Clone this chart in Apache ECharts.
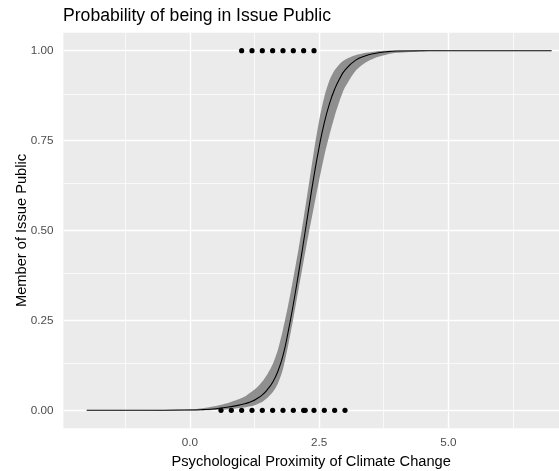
<!DOCTYPE html>
<html>
<head>
<meta charset="utf-8">
<script src="https://cdn.jsdelivr.net/npm/echarts@6/dist/echarts.min.js"></script>
<style>
  html, body { margin: 0; padding: 0; background: #ffffff; }
  #chart { width: 559px; height: 471px; }
</style>
</head>
<body>
<div id="chart"></div>
<script>
// Predicted probability of issue-public membership with its confidence band
const proximity = [-2, -1, 0, 0.25, 0.5, 0.75, 1.0, 1.1, 1.2, 1.3, 1.4, 1.5, 1.6, 1.7, 1.8, 1.9, 2.0, 2.1, 2.2, 2.3, 2.4, 2.5, 2.6, 2.7, 2.8, 2.9, 3.0, 3.2, 3.4, 3.6, 3.8, 4.0, 4.5, 5, 6, 7];
const fitted = [0, 0, 0.0008, 0.002, 0.0045, 0.009, 0.016, 0.020, 0.025, 0.033, 0.043, 0.058, 0.078, 0.108, 0.152, 0.218, 0.295, 0.38, 0.47, 0.562, 0.652, 0.732, 0.80, 0.853, 0.893, 0.923, 0.946, 0.973, 0.986, 0.993, 0.997, 0.999, 1, 1, 1, 1];
const upperBand = [0, 0, 0.003, 0.006, 0.012, 0.021, 0.034, 0.042, 0.052, 0.064, 0.080, 0.101, 0.128, 0.168, 0.225, 0.292, 0.368, 0.448, 0.535, 0.628, 0.722, 0.806, 0.872, 0.918, 0.946, 0.964, 0.975, 0.987, 0.994, 0.998, 0.9995, 1, 1, 1, 1, 1];
const lowerBand = [0, 0, 0.0001, 0.0004, 0.0012, 0.003, 0.007, 0.009, 0.012, 0.017, 0.024, 0.035, 0.050, 0.074, 0.115, 0.180, 0.255, 0.335, 0.415, 0.493, 0.567, 0.640, 0.708, 0.766, 0.818, 0.862, 0.898, 0.943, 0.967, 0.981, 0.989, 0.994, 0.998, 0.9995, 1, 1];

// Observed respondents: members (1) and non-members (0)
const memberX = [1.0, 1.2, 1.4, 1.6, 1.8, 2.0, 2.2, 2.4];
const nonMemberX = [0.6, 0.8, 1.0, 1.2, 1.4, 1.6, 1.8, 2.0, 2.2, 2.23, 2.4, 2.6, 2.8, 3.0];

// Axis breaks
const xTicks = [0, 2.5, 5];
const xMinorTicks = [-1.25, 1.25, 3.75, 6.25];
const yTicks = [0, 0.25, 0.5, 0.75, 1];
const yMinorTicks = [0.125, 0.375, 0.625, 0.875];

const FONT = "'Liberation Sans', Arial, sans-serif";
const chart = echarts.init(document.getElementById('chart'), null, { renderer: 'canvas' });

const gridLines = [].concat(
  xTicks.map(v => ({ xAxis: v, lineStyle: { width: 1.4 } })),
  xMinorTicks.map(v => ({ xAxis: v, lineStyle: { width: 0.7 } })),
  yTicks.map(v => ({ yAxis: v, lineStyle: { width: 1.4 } })),
  yMinorTicks.map(v => ({ yAxis: v, lineStyle: { width: 0.7 } }))
);

chart.setOption({
  animation: false,
  backgroundColor: '#ffffff',
  title: {
    text: 'Probability of being in Issue Public',
    left: 63,
    top: 6.7,
    padding: 0,
    textStyle: { fontFamily: FONT, fontSize: 17.6, fontWeight: 'normal', color: '#000000' }
  },
  grid: {
    left: 63.4,
    right: 0,
    top: 32.7,
    bottom: 42.7,
    containLabel: false,
    outerBoundsMode: 'none',
    show: true,
    backgroundColor: '#EBEBEB',
    borderWidth: 0
  },
  xAxis: {
    type: 'value',
    min: -2.45,
    max: 7.142,
    name: 'Psychological Proximity of Climate Change',
    nameLocation: 'middle',
    nameGap: 26,
    nameMoveOverlap: false,
    nameTextStyle: { fontFamily: FONT, fontSize: 14.67, color: '#000000' },
    axisLine: { show: false },
    splitLine: { show: false },
    axisTick: { show: true, length: 3.6, customValues: xTicks, lineStyle: { color: '#333333', width: 1.07 } },
    axisLabel: {
      customValues: xTicks,
      margin: 8,
      fontFamily: FONT, fontSize: 11.7, color: '#4D4D4D',
      formatter: v => v.toFixed(1)
    }
  },
  yAxis: {
    type: 'value',
    min: -0.05,
    max: 1.05,
    name: 'Member of Issue Public',
    nameLocation: 'middle',
    nameGap: 34,
    nameMoveOverlap: false,
    nameTextStyle: { fontFamily: FONT, fontSize: 14.67, color: '#000000' },
    axisLine: { show: false },
    splitLine: { show: false },
    axisTick: { show: true, length: 3.6, customValues: yTicks, lineStyle: { color: '#333333', width: 1.07 } },
    axisLabel: {
      customValues: yTicks,
      margin: 10,
      fontFamily: FONT, fontSize: 11.7, color: '#4D4D4D',
      formatter: v => v.toFixed(2)
    }
  },
  series: [
    {
      // confidence band: upper edge left to right, lower edge back
      type: 'custom',
      z: 2,
      silent: true,
      data: [0],
      renderItem: function (params, api) {
        const upperPts = proximity.map((x, i) => api.coord([x, upperBand[i]]));
        const lowerPts = proximity.map((x, i) => api.coord([x, lowerBand[i]])).reverse();
        return {
          type: 'polygon',
          shape: { points: upperPts.concat(lowerPts), smooth: 0.25 },
          style: { fill: '#8F8F8F', stroke: null }
        };
      }
    },
    {
      // fitted curve, plus the panel grid lines
      type: 'line',
      z: 3,
      silent: true,
      showSymbol: false,
      smooth: 0.5,
      data: proximity.map((x, i) => [x, fitted[i]]),
      lineStyle: { color: '#000000', width: 1.1 },
      markLine: {
        z: 1,
        silent: true,
        symbol: ['none', 'none'],
        label: { show: false },
        emphasis: { disabled: true },
        lineStyle: { color: '#FFFFFF', type: 'solid' },
        data: gridLines
      }
    },
    {
      type: 'scatter',
      z: 4,
      silent: true,
      symbol: 'circle',
      symbolSize: 5.2,
      itemStyle: { color: '#000000', opacity: 1 },
      data: memberX.map(x => [x, 1]).concat(nonMemberX.map(x => [x, 0]))
    }
  ]
});
</script>
</body>
</html>
